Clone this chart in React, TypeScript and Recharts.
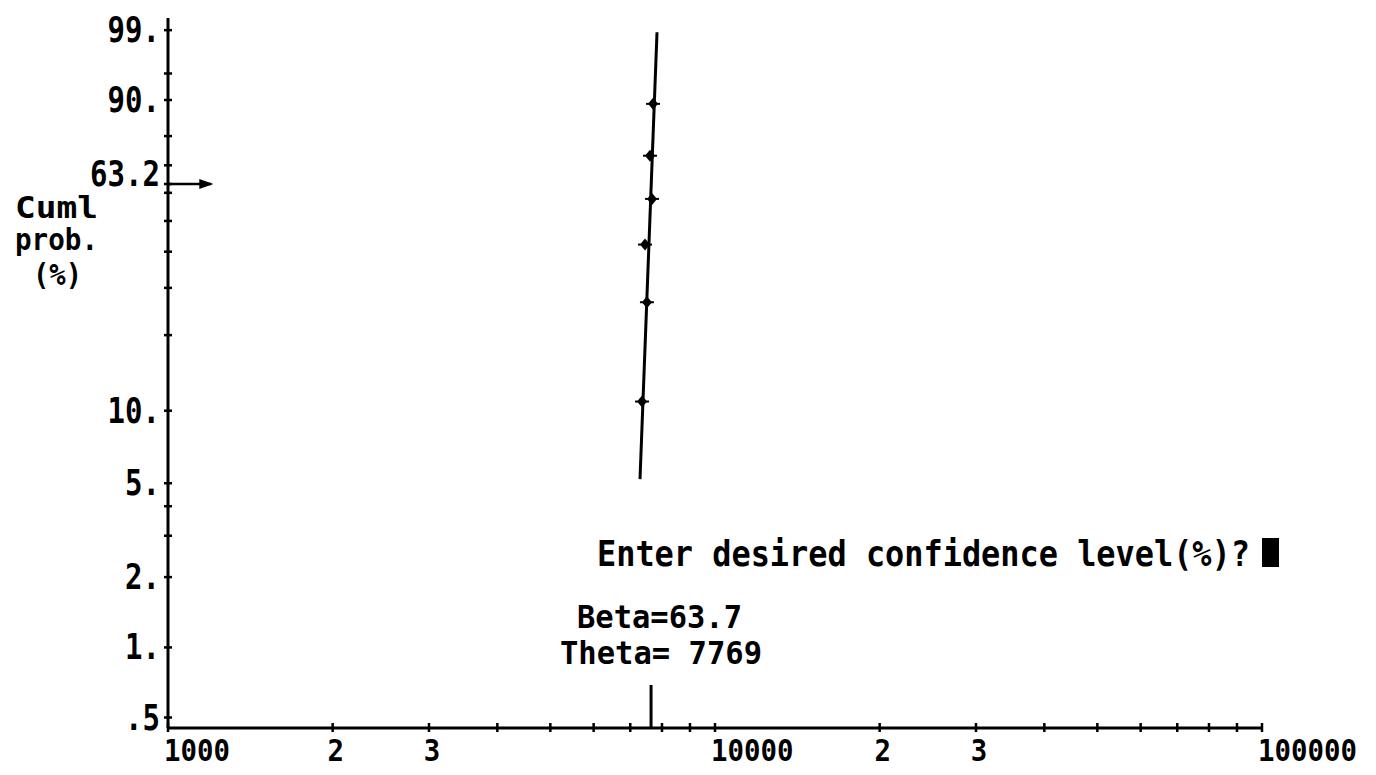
import React from 'react';
import { ComposedChart, Line, Scatter, XAxis, YAxis, ReferenceLine, ReferenceDot } from 'recharts';

const failureTimes = [7356, 7509, 7447, 7671, 7606, 7704];
const cumulProb = [10.9, 26.6, 42.2, 57.8, 73.4, 89.1];

// the two ends of the fitted line
const fitTimes = [7293, 7834];
const fitProb = [5.2, 98.9];

const beta = 63.7;
const theta = 7769;
const thetaMarkX = 7640;
const thetaMarkTopProb = 0.69;
const arrowEndX = 1200;

const xTicks = [
  1000, 2000, 3000, 4000, 5000, 6000, 7000, 8000, 9000,
  10000, 20000, 30000, 40000, 50000, 60000, 70000, 80000, 90000, 100000,
];
const xTickLabels: Record<number, string> = {
  1000: '1000', 2000: '2', 3000: '3', 10000: '10000', 20000: '2', 30000: '3', 100000: '100000',
};
const decadeTicks = [1000, 10000, 100000];

const yTickProbs = [99, 95, 90, 80, 70, 63.2, 60, 50, 40, 30, 20, 10, 5, 4, 3, 2, 1, 0.5];
const yTickLabels: Record<string, string> = {
  '99': '99.', '90': '90.', '63.2': '63.2', '10': '10.', '5': '5.', '2': '2.', '1': '1.', '0.5': '.5',
};

// weibull paper: ln(-ln(1-F))
const weib = (p: number) => Math.log(-Math.log(1 - p / 100));
const yDomain = [-5.4, 1.648];

const font = "'DejaVu Sans Mono', monospace";

const points = failureTimes.map((x, i) => ({ x, y: weib(cumulProb[i]) }));
const fitLine = fitTimes.map((x, i) => ({ x, y: weib(fitProb[i]) }));
const yTicks = yTickProbs.map(weib);

function XTick({ x, y, payload }: any) {
  const v = payload.value;
  const label = xTickLabels[v];
  const decade = decadeTicks.includes(v);
  return (
    <g>
      <line x1={x} x2={x} y1={y - 5} y2={y + 4} stroke="#000" strokeWidth={2.5} />
      {label && (
        <text
          x={decade ? x - 4 : x + 3}
          y={y + 33}
          textAnchor={decade ? 'start' : 'middle'}
          fontFamily={font}
          fontWeight={700}
          fontSize={31}
          textLength={label.length * 16.5}
          lengthAdjust="spacingAndGlyphs"
          fill="#000"
        >
          {label}
        </text>
      )}
    </g>
  );
}

function YTick({ x, y, payload }: any) {
  const p = yTickProbs.find((q) => Math.abs(weib(q) - payload.value) < 1e-6);
  const label = p !== undefined ? yTickLabels[String(p)] : undefined;
  // the 63.2 label sits a little above its arrow
  const dy = p === 63.2 ? -10 : 0;
  return (
    <g>
      <line x1={x - 4} x2={x + 4} y1={y} y2={y} stroke="#000" strokeWidth={2.5} />
      {label && (
        <text
          x={x - 8}
          y={y + 12 + dy}
          textAnchor="end"
          fontFamily={font}
          fontWeight={700}
          fontSize={35}
          textLength={label.length * 17.5}
          lengthAdjust="spacingAndGlyphs"
          fill="#000"
        >
          {label}
        </text>
      )}
    </g>
  );
}

function Marker({ cx, cy }: any) {
  return (
    <g>
      <polygon points={`${cx},${cy - 6} ${cx + 5},${cy} ${cx},${cy + 6} ${cx - 5},${cy}`} fill="#000" />
      <line x1={cx - 7} x2={cx + 7} y1={cy} y2={cy} stroke="#000" strokeWidth={2} />
    </g>
  );
}

function ArrowHead({ cx, cy }: any) {
  return <polygon points={`${cx - 12},${cy - 5} ${cx + 2},${cy} ${cx - 12},${cy + 5}`} fill="#000" />;
}

export default function App() {
  const txt = { fontFamily: font, fontWeight: 700, fill: '#000' } as const;
  return (
    <div style={{ position: 'absolute', left: 0, top: 0, width: 1376, height: 775, background: '#fff' }}>
      <ComposedChart width={1376} height={775} margin={{ top: 18, right: 114, left: 8, bottom: 7 }}>
        <XAxis
          dataKey="x"
          type="number"
          scale="log"
          domain={[1000, 100000]}
          allowDataOverflow
          ticks={xTicks}
          interval={0}
          tick={<XTick />}
          tickLine={false}
          tickSize={0}
          tickMargin={0}
          height={40}
          axisLine={{ stroke: '#000', strokeWidth: 3 }}
        />
        <YAxis
          dataKey="y"
          type="number"
          domain={yDomain}
          allowDataOverflow
          ticks={yTicks}
          interval={0}
          tick={<YTick />}
          tickLine={false}
          tickSize={0}
          tickMargin={0}
          width={160}
          axisLine={{ stroke: '#000', strokeWidth: 3 }}
        />
        <ReferenceLine
          segment={[{ x: 1000, y: weib(63.2) }, { x: arrowEndX, y: weib(63.2) }]}
          stroke="#000"
          strokeWidth={2.5}
        />
        <ReferenceDot x={arrowEndX} y={weib(63.2)} shape={<ArrowHead />} />
        <ReferenceLine
          segment={[{ x: thetaMarkX, y: yDomain[0] }, { x: thetaMarkX, y: weib(thetaMarkTopProb) }]}
          stroke="#000"
          strokeWidth={3}
        />
        <Line data={fitLine} dataKey="y" stroke="#000" strokeWidth={3} dot={false} isAnimationActive={false} />
        <Scatter data={points} dataKey="y" shape={<Marker />} isAnimationActive={false} />
      </ComposedChart>
      <svg width={1376} height={775} style={{ position: 'absolute', left: 0, top: 0, pointerEvents: 'none' }}>
        <text x={15} y={218} fontSize={30} textLength={83} lengthAdjust="spacingAndGlyphs" {...txt}>Cuml</text>
        <text x={15} y={250} fontSize={30} textLength={83} lengthAdjust="spacingAndGlyphs" {...txt}>prob.</text>
        <text x={33} y={285} fontSize={30} textLength={49} lengthAdjust="spacingAndGlyphs" {...txt}>(%)</text>
        <text x={597} y={566} fontSize={36} textLength={653} lengthAdjust="spacingAndGlyphs" {...txt}>
          Enter desired confidence level(%)?
        </text>
        <rect x={1262} y={538} width={17} height={29} fill="#000" />
        <text x={577} y={628} fontSize={32} textLength={165} lengthAdjust="spacingAndGlyphs" {...txt}>
          {`Beta=${beta}`}
        </text>
        <text x={560} y={664} fontSize={32} textLength={202} lengthAdjust="spacingAndGlyphs" {...txt}>
          {`Theta= ${theta}`}
        </text>
      </svg>
    </div>
  );
}
